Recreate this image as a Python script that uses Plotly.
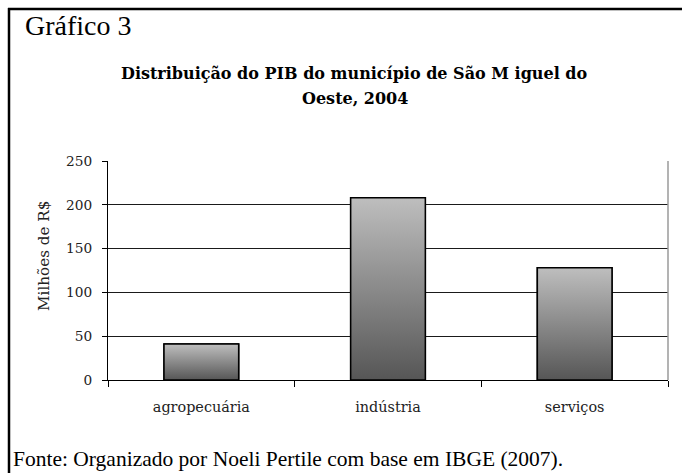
import plotly.graph_objects as go

categories = ["agropecuária", "indústria", "serviços"]
values = [41, 208, 128]
y_ticks = [0, 50, 100, 150, 200, 250]

W, H = 682, 473
L, R, T, B = 108, 668, 161, 380

def px(x):
    return (x - L) / (R - L)

def py(y):
    return (B - y) / (B - T)

fig = go.Figure()
bar_w = 0.40
xs = list(range(len(categories)))

# base bar trace (covered by gradient fill)
fig.add_trace(go.Bar(x=xs, y=values, width=bar_w, marker=dict(color="#8a8a8a", line=dict(color="black", width=1.5)),
                     showlegend=False, hoverinfo="skip"))

for i, v in zip(xs, values):
    fig.add_trace(go.Scatter(
        x=[i - bar_w / 2, i + bar_w / 2, i + bar_w / 2, i - bar_w / 2, i - bar_w / 2],
        y=[0, 0, v, v, 0], mode="lines", fill="toself",
        fillgradient=dict(type="vertical", start=0, stop=v,
                          colorscale=[[0, "#565656"], [1, "#bebebe"]]),
        line=dict(color="black", width=1.5), showlegend=False, hoverinfo="skip"))

serif = "DejaVu Serif"

fig.update_layout(
    width=W, height=H, margin=dict(l=L, r=W - R, t=T, b=H - B),
    paper_bgcolor="white", plot_bgcolor="white",
    font=dict(family=serif, size=14, color="black"),
    xaxis=dict(range=[-0.5, 2.5], tickvals=xs, ticktext=categories, ticks="", showgrid=False,
               showline=True, linecolor="black", linewidth=1, zeroline=False, fixedrange=True,
               tickfont=dict(family=serif, size=14.4, color="#222"), ticklabelstandoff=14,
               minor=dict(tick0=0.5, dtick=1, ticks="outside", ticklen=6, tickcolor="black", showgrid=False)),
    yaxis=dict(range=[0, 250], tickvals=y_ticks, ticks="outside", ticklen=5, tickcolor="black",
               showgrid=True, gridcolor="#1a1a1a", gridwidth=1, showline=True, linecolor="black",
               linewidth=1, zeroline=False, tickfont=dict(family=serif, size=13.7, color="#222"),
               ticklabelstandoff=7, fixedrange=True),
    shapes=[
        dict(type="line", xref="paper", yref="paper", x0=1, x1=1, y0=0, y1=1,
             line=dict(color="#9a9a9a", width=1.5)),
        dict(type="line", xref="paper", yref="paper", x0=px(9), x1=px(9), y0=py(8), y1=py(480),
             line=dict(color="black", width=2.5)),
        dict(type="line", xref="paper", yref="paper", x0=px(8), x1=px(690), y0=py(9), y1=py(9),
             line=dict(color="black", width=2.5)),
    ],
    annotations=[
        dict(text="Gráfico 3", xref="paper", yref="paper", x=px(23), y=py(25), xanchor="left", yanchor="middle",
             showarrow=False, font=dict(family="Liberation Serif", size=28, color="black")),
        dict(text="<b>Distribuição do PIB do município de São M iguel do</b>", xref="paper", yref="paper",
             x=px(354), y=py(73), xanchor="center", yanchor="middle", showarrow=False,
             font=dict(family=serif, size=16, color="black")),
        dict(text="<b>Oeste, 2004</b>", xref="paper", yref="paper",
             x=px(355), y=py(98), xanchor="center", yanchor="middle", showarrow=False,
             font=dict(family=serif, size=16, color="black")),
        dict(text="Milhões de R$", xref="paper", yref="paper", x=px(44), y=py(256), textangle=-90,
             xanchor="center", yanchor="middle", showarrow=False,
             font=dict(family=serif, size=15.2, color="#222")),
        dict(text="Fonte: Organizado por Noeli Pertile com base em IBGE (2007).", xref="paper", yref="paper",
             x=px(11), y=py(459), xanchor="left", yanchor="middle", showarrow=False,
             font=dict(family="Liberation Serif", size=21.5, color="black")),
    ],
)

fig.write_html("out.html", config={"displayModeBar": False},
               post_script="document.body.style.margin='0';document.body.style.overflow='hidden';")
